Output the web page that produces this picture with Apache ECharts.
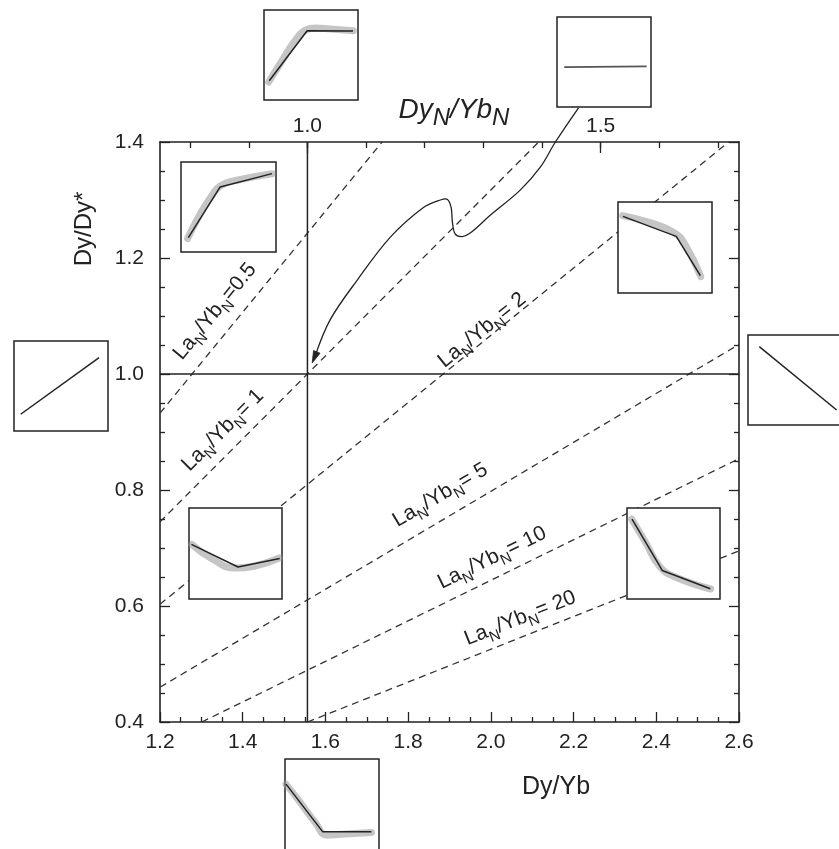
<!DOCTYPE html>
<html><head><meta charset="utf-8">
<script src="https://cdn.jsdelivr.net/npm/echarts@6/dist/echarts.min.js"></script>
<style>html,body{margin:0;padding:0;background:#fff}#c{width:839px;height:849px}</style>
</head><body><div id="c"></div>
<script>
// ---------------- data ----------------
const xRange = [1.2, 2.6];            // Dy/Yb
const yRange = [0.4, 1.4];            // Dy/Dy*
const topRange = [0.7486, 1.7358];    // DyN/YbN (top axis)
const topTicks = [0.8, 0.9, 1.0, 1.1, 1.2, 1.3, 1.4, 1.5, 1.6, 1.7];
const topLabels = [1.0, 1.5];
const refX = 1.5565;                  // DyN/YbN = 1
const refY = 1.0;                     // Dy/Dy* = 1
const ratioNames = ['0.5', '1', '2', '5', '10', '20'];
const ratioStart = [[1.2, 0.9325], [1.2, 0.745], [1.2, 0.603], [1.2, 0.460], [1.301, 0.4], [1.5565, 0.4]];
const ratioEnd   = [[1.737, 1.4], [2.1155, 1.4], [2.575, 1.4], [2.6, 1.051], [2.6, 0.854], [2.6, 0.695]];
const ratioLabelAt = [[1.333, 1.108], [1.352, 0.903], [1.979, 1.0755], [1.878, 0.791], [2.003, 0.683], [2.071, 0.579]];
const curveX = [2.212, 2.156, 2.120, 2.071, 1.999, 1.950, 1.931, 1.914, 1.907, 1.904, 1.895, 1.878, 1.837, 1.757, 1.677, 1.611, 1.568];
const curveY = [1.459, 1.400, 1.357, 1.317, 1.274, 1.243, 1.237, 1.241, 1.262, 1.287, 1.301, 1.300, 1.287, 1.236, 1.162, 1.093, 1.019];
// inset REE-pattern sketches (normalised 0..1 inside each box)
const insetPattern = [
  [[0.056, 0.214], [0.459, 0.770], [0.947, 0.767]],
  [[0.077, 0.444], [0.954, 0.451]],
  [[0.077, 0.159], [0.412, 0.723], [0.958, 0.871]],
  [[0.053, 0.842], [0.620, 0.622], [0.876, 0.190]],
  [[0.12, 0.870], [0.943, 0.167]],
  [[0.071, 0.186], [0.905, 0.816]],
  [[0.026, 0.601], [0.527, 0.352], [0.975, 0.444]],
  [[0.054, 0.879], [0.379, 0.314], [0.896, 0.113]],
  [[0.011, 0.730], [0.400, 0.219], [0.919, 0.219]]
];
const insetBand = [
  [[0.05, 0.20], [0.2, 0.45], [0.33, 0.66], [0.45, 0.78], [0.55, 0.80], [0.7, 0.79], [0.95, 0.77]],
  null,
  [[0.07, 0.15], [0.2, 0.42], [0.32, 0.62], [0.42, 0.74], [0.6, 0.80], [0.96, 0.87]],
  [[0.05, 0.85], [0.35, 0.77], [0.6, 0.66], [0.72, 0.52], [0.88, 0.18]],
  null,
  null,
  [[0.03, 0.60], [0.25, 0.44], [0.5, 0.34], [0.7, 0.36], [0.97, 0.45]],
  [[0.05, 0.88], [0.2, 0.62], [0.35, 0.36], [0.5, 0.25], [0.9, 0.11]],
  [[0.01, 0.73], [0.15, 0.55], [0.32, 0.32], [0.45, 0.18], [0.6, 0.19], [0.92, 0.21]]
];

// ---------------- layout / style ----------------
const FONT = 'Liberation Sans, Arial, Helvetica, sans-serif';
const INK = '#222';
const insetLayout = [
  {left: 264, top: 10, width: 94, height: 90},
  {left: 557, top: 17, width: 94, height: 90},
  {left: 181, top: 162, width: 95, height: 90},
  {left: 618, top: 202, width: 94, height: 91},
  {left: 748, top: 335, width: 94, height: 90},
  {left: 14, top: 341, width: 94, height: 90},
  {left: 189, top: 508, width: 93, height: 91},
  {left: 627, top: 508, width: 93, height: 91},
  {left: 285, top: 759, width: 94, height: 93}
];

const chart = echarts.init(document.getElementById('c'), null, {renderer: 'canvas'});

const grids = [{left: 160, top: 142, width: 579, height: 580, outerBoundsMode: 'none', containLabel: false}];
insetLayout.forEach(l => grids.push(Object.assign({
  show: true, backgroundColor: '#fff', borderColor: INK, borderWidth: 1.5, z: 10,
  outerBoundsMode: 'none', containLabel: false
}, l)));

const tickLine = {color: INK, width: 1.3};
const xAxes = [
  {gridIndex: 0, type: 'value', position: 'bottom', min: xRange[0], max: xRange[1], interval: 0.2,
   axisLine: {show: true, onZero: false, lineStyle: {color: INK, width: 1.6}},
   axisTick: {show: true, inside: true, length: 10, lineStyle: tickLine},
   minorTick: {show: true, splitNumber: 4, length: 5, lineStyle: tickLine},
   axisLabel: {show: true, margin: 10, fontSize: 21, fontFamily: FONT, color: INK, showMinLabel: true, showMaxLabel: true,
     formatter: v => v.toFixed(1)},
   splitLine: {show: false}},
  {gridIndex: 0, type: 'value', position: 'top', min: topRange[0], max: topRange[1],
   axisLine: {show: true, onZero: false, lineStyle: {color: INK, width: 1.6}},
   axisTick: {show: true, inside: true, length: 11, customValues: topLabels, lineStyle: tickLine},
   axisLabel: {show: true, margin: 5, fontSize: 21, fontFamily: FONT, color: INK, customValues: topLabels,
     formatter: v => v.toFixed(1)},
   splitLine: {show: false}},
  {gridIndex: 0, type: 'value', position: 'top', min: topRange[0], max: topRange[1],
   axisLine: {show: false},
   axisTick: {show: true, inside: true, length: 6, customValues: topTicks, lineStyle: tickLine},
   axisLabel: {show: false}, splitLine: {show: false}}
];
const yAxes = [
  {gridIndex: 0, type: 'value', position: 'left', min: yRange[0], max: yRange[1], interval: 0.2,
   axisLine: {show: true, onZero: false, lineStyle: {color: INK, width: 1.6}},
   axisTick: {show: true, inside: true, length: 10, lineStyle: tickLine},
   minorTick: {show: true, splitNumber: 4, length: 5, lineStyle: tickLine},
   axisLabel: {show: true, margin: 16, fontSize: 21, fontFamily: FONT, color: INK, showMinLabel: true, showMaxLabel: true,
     formatter: v => v.toFixed(1)},
   splitLine: {show: false}},
  {gridIndex: 0, type: 'value', position: 'right', min: yRange[0], max: yRange[1], interval: 0.2,
   axisLine: {show: true, onZero: false, lineStyle: {color: INK, width: 1.6}},
   axisTick: {show: true, inside: true, length: 10, lineStyle: tickLine},
   minorTick: {show: true, splitNumber: 4, length: 5, lineStyle: tickLine},
   axisLabel: {show: false}, splitLine: {show: false}}
];
insetLayout.forEach((l, k) => {
  xAxes.push({gridIndex: k + 1, type: 'value', min: 0, max: 1, show: false});
  yAxes.push({gridIndex: k + 1, type: 'value', min: 0, max: 1, show: false});
});

const series = [];
// reference lines
series.push({type: 'line', xAxisIndex: 0, yAxisIndex: 0, data: [[refX, yRange[0]], [refX, yRange[1]]],
  symbol: 'none', silent: true, lineStyle: {color: INK, width: 1.5}, z: 3});
series.push({type: 'line', xAxisIndex: 0, yAxisIndex: 0, data: [[xRange[0], refY], [xRange[1], refY]],
  symbol: 'none', silent: true, lineStyle: {color: INK, width: 1.5}, z: 3});
// LaN/YbN dashed lines
ratioNames.forEach((n, i) => {
  series.push({type: 'line', xAxisIndex: 0, yAxisIndex: 0, data: [ratioStart[i], ratioEnd[i]],
    symbol: 'none', silent: true, lineStyle: {color: '#333', width: 1.3, type: [7, 5]}, z: 2});
});
// labels along the dashed lines
series.push({
  type: 'custom', xAxisIndex: 0, yAxisIndex: 0, clip: false, silent: true, z: 4,
  data: ratioLabelAt.map((p, i) => [p[0], p[1], i]),
  renderItem: function (params, api) {
    const i = api.value(2);
    const c = api.coord([api.value(0), api.value(1)]);
    const a = api.coord(ratioStart[i]);
    const b = api.coord(ratioEnd[i]);
    const rot = Math.atan2(a[1] - b[1], b[0] - a[0]);
    const eq = ratioNames[i] === '0.5' ? '=0.5' : '= ' + ratioNames[i];
    return {
      type: 'text', x: c[0], y: c[1], rotation: rot,
      style: {
        text: '{m|La}{s|N}{m|/Yb}{s|N}{m|' + eq + '}',
        align: 'center', verticalAlign: 'middle', fill: INK, fontFamily: FONT, fontSize: 21,
        rich: {
          m: {fontSize: 21, fontFamily: FONT, fill: INK, lineHeight: 30},
          s: {fontSize: 15, fontFamily: FONT, fill: INK, lineHeight: 14, verticalAlign: 'bottom'}
        }
      }
    };
  }
});
// curved arrow
series.push({
  type: 'custom', xAxisIndex: 0, yAxisIndex: 0, clip: false, silent: true, z: 5,
  data: [[curveX[0], curveY[0]]],
  renderItem: function (params, api) {
    const pts = curveX.map((x, j) => api.coord([x, curveY[j]]));
    const tip = pts[pts.length - 1];
    const prev = pts[pts.length - 2];
    const dx = tip[0] - prev[0], dy = tip[1] - prev[1];
    const L = Math.sqrt(dx * dx + dy * dy);
    const ux = dx / L, uy = dy / L;
    const len = 12, hw = 3.5;
    const base = [tip[0] - ux * len, tip[1] - uy * len];
    const linePts = pts.slice(0, pts.length - 1).concat([[tip[0] - ux * 8, tip[1] - uy * 8]]);
    return {
      type: 'group',
      children: [
        {type: 'polyline', shape: {points: linePts, smooth: 0.35}, style: {stroke: INK, lineWidth: 1.3, fill: null}},
        {type: 'polygon', shape: {points: [tip, [base[0] - uy * hw, base[1] + ux * hw], [base[0] + uy * hw, base[1] - ux * hw]]},
         style: {fill: INK, stroke: INK, lineWidth: 0.8}}
      ]
    };
  }
});
// insets
insetPattern.forEach((pat, k) => {
  if (insetBand[k]) {
    series.push({type: 'line', xAxisIndex: k + 3, yAxisIndex: k + 2, data: insetBand[k], smooth: 0.5,
      symbol: 'none', silent: true, z: 12, lineStyle: {color: 'rgba(150,150,150,0.55)', width: 7, cap: 'round', join: 'round'}});
  }
  const flat = k === 1;
  series.push({type: 'line', xAxisIndex: k + 3, yAxisIndex: k + 2, data: pat,
    symbol: 'none', silent: true, z: 13, lineStyle: {color: flat ? '#555' : INK, width: flat ? 1.8 : 1.5}});
});

const option = {
  animation: false,
  backgroundColor: '#fff',
  grid: grids,
  xAxis: xAxes,
  yAxis: yAxes,
  series: series,
  graphic: {elements: [
    {type: 'text', x: 556, y: 787, silent: true,
     style: {text: 'Dy/Yb', fontSize: 25, fontFamily: FONT, fill: INK, align: 'center', verticalAlign: 'middle'}},
    {type: 'text', x: 84, y: 229, rotation: Math.PI / 2, silent: true,
     style: {text: 'Dy/Dy*', fontSize: 24, fontFamily: FONT, fill: INK, align: 'center', verticalAlign: 'middle'}},
    {type: 'text', x: 454, y: 110, silent: true,
     style: {text: '{m|Dy}{s|N}{m|/Yb}{s|N}', align: 'center', verticalAlign: 'middle', fill: INK,
       fontFamily: FONT, fontSize: 28, fontStyle: 'italic',
       rich: {
         m: {fontSize: 28, fontStyle: 'italic', fontFamily: FONT, fill: INK, lineHeight: 40},
         s: {fontSize: 24, fontStyle: 'italic', fontFamily: FONT, fill: INK, lineHeight: 24, verticalAlign: 'bottom'}
       }}}
  ]}
};
chart.setOption(option);
</script>
</body></html>
